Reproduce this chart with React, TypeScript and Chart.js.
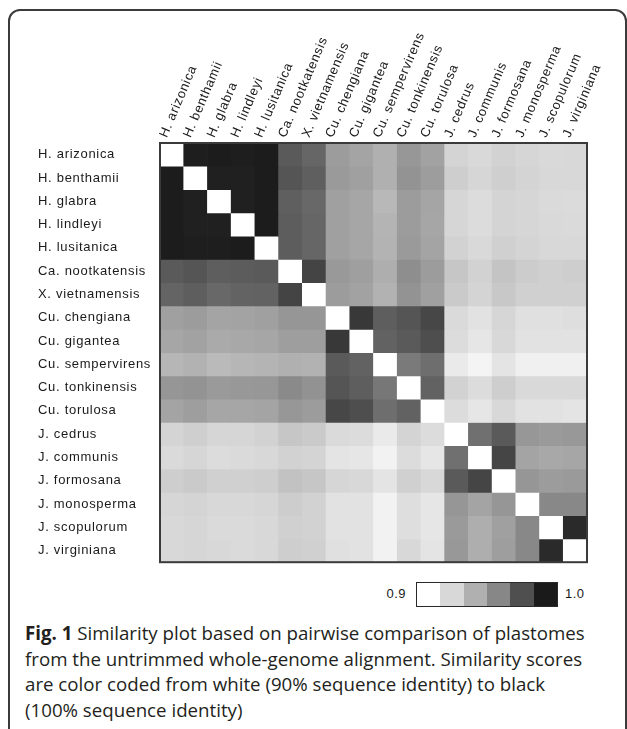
import React, { useEffect, useRef } from "react";
import { Chart, registerables } from "chart.js";

Chart.register(...registerables);

// ---- data -------------------------------------------------------------
const TAXA: string[] = [
  "H. arizonica", "H. benthamii", "H. glabra", "H. lindleyi", "H. lusitanica",
  "Ca. nootkatensis", "X. vietnamensis", "Cu. chengiana", "Cu. gigantea",
  "Cu. sempervirens", "Cu. tonkinensis", "Cu. torulosa", "J. cedrus",
  "J. communis", "J. formosana", "J. monosperma", "J. scopulorum", "J. virginiana",
];

// pairwise sequence identity (%) — diagonal left blank (drawn white)
const H_ARIZONICA = [null, 98.82, 98.9, 98.82, 98.9, 96.47, 96.0, 93.88, 93.57, 93.1, 94.08, 93.65, 91.69, 91.49, 91.76, 91.61, 91.49, 91.53];
const H_BENTHAMII = [98.9, null, 98.75, 98.75, 98.9, 96.67, 96.27, 93.96, 93.73, 93.1, 94.24, 93.84, 91.92, 91.61, 91.88, 91.69, 91.53, 91.53];
const H_GLABRA = [98.9, 98.75, null, 98.75, 98.9, 96.27, 95.92, 93.73, 93.49, 92.78, 93.88, 93.53, 91.61, 91.37, 91.69, 91.61, 91.45, 91.41];
const H_LINDLEYI = [98.9, 98.75, 98.75, null, 98.9, 96.35, 96.0, 93.73, 93.49, 92.94, 93.88, 93.49, 91.61, 91.37, 91.69, 91.61, 91.49, 91.45];
const H_LUSITANICA = [98.9, 98.82, 98.82, 98.9, null, 96.35, 96.0, 93.73, 93.49, 92.98, 93.96, 93.57, 91.76, 91.49, 91.84, 91.69, 91.53, 91.53];
const CA_NOOTKATENSIS = [96.47, 96.67, 96.31, 96.39, 96.47, null, 97.33, 94.0, 93.76, 93.18, 94.43, 93.88, 92.24, 91.76, 92.31, 92.0, 91.84, 91.92];
const X_VIETNAMENSIS = [96.08, 96.31, 95.92, 96.12, 96.16, 97.33, null, 93.88, 93.65, 93.02, 94.24, 93.73, 92.08, 91.69, 92.16, 91.84, 91.84, 91.84];
const CU_CHENGIANA = [93.73, 93.88, 93.57, 93.61, 93.73, 94.12, 94.12, null, 97.8, 96.31, 96.67, 97.22, 91.45, 91.14, 91.61, 91.22, 91.22, 91.29];
const CU_GIGANTEA = [93.49, 93.65, 93.33, 93.41, 93.49, 93.8, 93.8, 97.8, null, 96.16, 96.47, 96.94, 91.37, 90.98, 91.53, 91.14, 91.14, 91.14];
const CU_SEMPERVIRENS = [92.86, 93.02, 92.71, 92.86, 92.94, 93.1, 93.02, 96.47, 96.16, null, 95.22, 95.69, 90.82, 90.43, 91.06, 90.59, 90.59, 90.59];
const CU_TONKINENSIS = [94.12, 94.24, 93.96, 94.04, 94.08, 94.59, 94.27, 96.67, 96.31, 95.33, null, 96.16, 91.76, 91.37, 91.92, 91.49, 91.49, 91.49];
const CU_TORULOSA = [93.57, 93.8, 93.49, 93.49, 93.57, 94.08, 93.88, 97.22, 96.94, 95.69, 96.16, null, 91.37, 90.98, 91.53, 91.14, 91.14, 91.06];
const J_CEDRUS = [91.69, 91.88, 91.61, 91.61, 91.76, 92.24, 92.08, 91.45, 91.37, 90.82, 91.69, 91.37, null, 95.61, 96.47, 94.08, 93.96, 94.04];
const J_COMMUNIS = [91.45, 91.61, 91.37, 91.45, 91.53, 91.76, 91.69, 91.06, 90.98, 90.51, 91.37, 90.98, 95.61, null, 97.29, 93.57, 93.41, 93.49];
const J_FORMOSANA = [91.92, 92.08, 91.84, 91.84, 91.92, 92.39, 92.24, 91.61, 91.53, 91.06, 91.84, 91.53, 96.47, 97.29, null, 94.12, 93.88, 93.96];
const J_MONOSPERMA = [91.61, 91.69, 91.53, 91.53, 91.61, 91.96, 91.76, 91.14, 91.14, 90.51, 91.29, 90.98, 94.12, 93.57, 94.12, null, 94.67, 94.67];
const J_SCOPULORUM = [91.53, 91.61, 91.45, 91.45, 91.53, 91.84, 91.76, 91.14, 91.14, 90.51, 91.29, 90.98, 93.96, 93.18, 93.73, 94.67, null, 98.35];
const J_VIRGINIANA = [91.53, 91.61, 91.53, 91.45, 91.53, 91.92, 91.84, 91.22, 91.14, 90.51, 91.53, 91.06, 94.04, 93.18, 93.8, 94.67, 98.35, null];

const SIMILARITY: (number | null)[][] = [
  H_ARIZONICA, H_BENTHAMII, H_GLABRA, H_LINDLEYI, H_LUSITANICA, CA_NOOTKATENSIS,
  X_VIETNAMENSIS, CU_CHENGIANA, CU_GIGANTEA, CU_SEMPERVIRENS, CU_TONKINENSIS,
  CU_TORULOSA, J_CEDRUS, J_COMMUNIS, J_FORMOSANA, J_MONOSPERMA, J_SCOPULORUM, J_VIRGINIANA,
];

const SCALE_MIN = 90;
const SCALE_MAX = 100;
const LEGEND_TICKS = ["0.9", "1.0"];
const LEGEND_SWATCHES = ["#ffffff", "#d8d8d8", "#b0b0b0", "#878787", "#4f4f4f", "#1a1a1a"];

// ---- helpers -----------------------------------------------------------
function shade(v: number | null): string {
  if (v === null || v === undefined) return "#ffffff";
  const t = Math.min(1, Math.max(0, (v - SCALE_MIN) / (SCALE_MAX - SCALE_MIN)));
  const g = Math.round(255 * (1 - t));
  return `rgb(${g},${g},${g})`;
}

const LABEL_FONT = "'Liberation Sans', Arial, Helvetica, sans-serif";

const letterSpacing = {
  id: "letterSpacing",
  beforeUpdate(chart: any) {
    (chart.ctx as any).letterSpacing = "0.7px";
  },
  beforeDraw(chart: any) {
    (chart.ctx as any).letterSpacing = "0.7px";
  },
};

const gridFrame = {
  id: "gridFrame",
  afterDatasetsDraw(chart: any) {
    const { ctx, chartArea } = chart;
    const { left, top, right, bottom } = chartArea;
    ctx.save();
    ctx.strokeStyle = "#3a3a3a";
    ctx.lineWidth = 2;
    ctx.strokeRect(left, top, right - left, bottom - top);
    ctx.restore();
  },
};

export default function App() {
  const canvasRef = useRef<HTMLCanvasElement | null>(null);

  useEffect(() => {
    if (!canvasRef.current) return;
    const chart = new Chart(canvasRef.current, {
      type: "bar",
      data: {
        labels: TAXA,
        datasets: SIMILARITY.map((row, i) => ({
          label: TAXA[i],
          data: row.map(() => [i, i + 1]) as any,
          backgroundColor: row.map(shade),
          borderWidth: 0,
          barPercentage: 1,
          categoryPercentage: 1,
          grouped: false,
          xAxisID: "x",
          yAxisID: "y",
        })),
      },
      options: {
        responsive: false,
        animation: false,
        devicePixelRatio: 1,
        events: [],
        layout: { padding: { left: 38, right: 40, top: 0, bottom: 5 } },
        plugins: { legend: { display: false }, tooltip: { enabled: false } },
        scales: {
          x: {
            type: "category",
            position: "top",
            offset: true,
            grid: { display: false, drawTicks: false },
            border: { display: false },
            ticks: {
              autoSkip: false,
              minRotation: 67,
              maxRotation: 67,
              padding: 3,
              labelOffset: 6,
              color: "#1a1a1a",
              font: { family: LABEL_FONT, size: 13 },
            },
            afterFit: (s: any) => {
              s.height = 143;
            },
          },
          y: {
            type: "linear",
            display: false,
            min: 0,
            max: TAXA.length,
            reverse: true,
          },
          rows: {
            type: "category",
            axis: "y",
            labels: TAXA,
            position: "left",
            offset: true,
            grid: { display: false, drawTicks: false },
            border: { display: false },
            ticks: {
              autoSkip: false,
              crossAlign: "far",
              padding: 0,
              color: "#1a1a1a",
              font: { family: LABEL_FONT, size: 13 },
            },
            afterFit: (s: any) => {
              s.width = 122;
            },
          },
        } as any,
      },
      plugins: [letterSpacing, gridFrame],
    });
    return () => chart.destroy();
  }, []);

  return (
    <div style={{ position: "fixed", inset: 0, overflow: "hidden", background: "#fff" }}>
      <div
        style={{
          position: "absolute",
          left: 8,
          top: 9,
          width: 619,
          height: 800,
          boxSizing: "border-box",
          border: "2px solid #3b3b3b",
          borderRadius: 12,
        }}
      />
      <canvas
        ref={canvasRef}
        width={627}
        height={570}
        style={{ position: "absolute", left: 0, top: 0, width: 627, height: 570 }}
      />
      {/* colour key */}
      <div
        style={{
          position: "absolute",
          left: 382,
          top: 586,
          width: 24,
          textAlign: "right",
          font: `13px ${LABEL_FONT}`,
          letterSpacing: "0.5px",
          color: "#1a1a1a",
        }}
      >
        {LEGEND_TICKS[0]}
      </div>
      <div
        style={{
          position: "absolute",
          left: 416,
          top: 582,
          width: 142,
          height: 25,
          boxSizing: "border-box",
          border: "1.5px solid #2a2a2a",
          display: "flex",
        }}
      >
        {LEGEND_SWATCHES.map((c, i) => (
          <div key={i} style={{ flex: 1, background: c }} />
        ))}
      </div>
      <div
        style={{
          position: "absolute",
          left: 565,
          top: 586,
          font: `13px ${LABEL_FONT}`,
          letterSpacing: "0.5px",
          color: "#1a1a1a",
        }}
      >
        {LEGEND_TICKS[1]}
      </div>
      {/* caption */}
      <div
        style={{
          position: "absolute",
          left: 25,
          top: 620,
          font: "18.7px 'Open Sans', 'Noto Sans', sans-serif",
          lineHeight: "25.7px",
          color: "#231f20",
          whiteSpace: "nowrap",
        }}
      >
        <b style={{ fontWeight: 700 }}>Fig. 1</b> Similarity plot based on pairwise comparison of plastomes
        <br />
        from the untrimmed whole-genome alignment. Similarity scores
        <br />
        are color coded from white (90% sequence identity) to black
        <br />
        (100% sequence identity)
      </div>
    </div>
  );
}
